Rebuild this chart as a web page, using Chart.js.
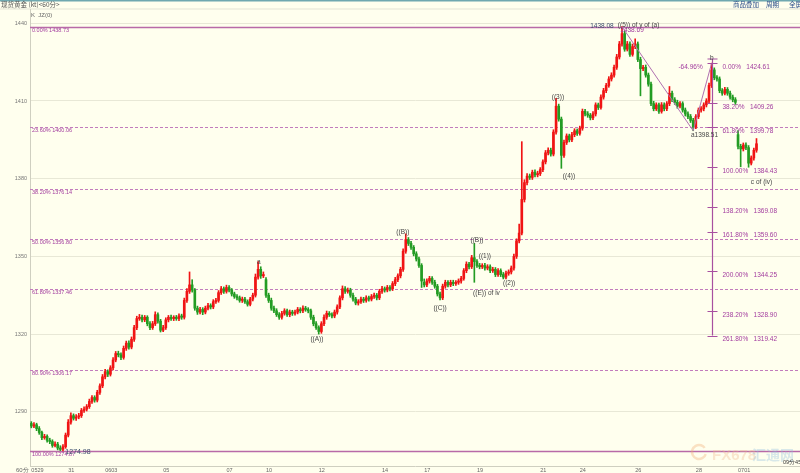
<!DOCTYPE html>
<html>
<head>
<meta charset="utf-8">
<script src="https://cdn.jsdelivr.net/npm/chart.js@4.4.1/dist/chart.umd.min.js"></script>
<style>
  html, body { margin: 0; padding: 0; background: #ffffee; }
</style>
</head>
<body>
<canvas id="c" width="800" height="473"></canvas>
<script>
// 60-minute spot gold (resampled to 2-hour candles)
const opens = [
  1285.5,1284.5,1285,1283.5,1282,1280,1280.5,1279,1278.5,1277,
  1277.5,1276,1275.5,1276.5,1281,1286,1288.5,1287.5,1288,1288.5,
  1290.5,1291,1292,1294,1295.5,1294.5,1297.5,1300,1303.5,1305.5,
  1304.5,1307,1310,1312.5,1312,1311,1314.5,1316.5,1315,1318,
  1322.5,1326,1326.5,1325.5,1326.5,1324,1322.5,1324,1327.5,1325,
  1321.5,1322.5,1325.5,1326.5,1326,1326.5,1326,1327,1326.5,1333,
  1336.5,1339,1337,1330,1328.5,1329.5,1328.5,1330,1331,1330.5,
  1332.5,1333,1336,1337.5,1336.5,1338,1337,1335.5,1334.5,1334,
  1333,1333.5,1332.5,1331.5,1333.5,1335,1342,1345,1342.5,1341,
  1335,1333,1330,1329,1327.5,1326.5,1328,1329,1327.5,1328.5,
  1328,1328.5,1329.5,1329,1330,1329.5,1329,1326.5,1324,1322.5,
  1321,1324,1326.5,1328,1327.5,1327,1328.5,1330.5,1334,1337.5,
  1336.5,1337,1335,1333.5,1332,1332.5,1333.5,1333,1334,1333.5,
  1334.5,1335,1334,1336.5,1337.5,1337,1338,1337.5,1339.5,1341,
  1342.5,1345,1352,1356.5,1355,1353.5,1351,1349,1346.5,1340,
  1339,1340.5,1341.5,1340,1338.5,1335.5,1334,1338.5,1340,1339,
  1340,1339.5,1340,1340.5,1341.5,1344.5,1347,1346,1349.5,1348,
  1346.5,1346,1346.5,1345.5,1346,1344.5,1345,1343,1344.5,1343,
  1342,1343.5,1344,1345.5,1350,1356,1359,1372,1378.5,1381,
  1380.5,1382.5,1381.5,1382,1383.5,1386.5,1390,1391,1389.5,1398,
  1408,1403,1389,1394,1396.5,1395,1397,1398.5,1397.5,1399.5,
  1406,1405,1404.5,1403.5,1405,1408.5,1407.5,1411.5,1414,1416,
  1418.5,1420,1423,1427,1432,1436,1430,1432,1428,1431,
  1432,1426,1422.5,1423,1420,1416.5,1409,1407,1408.5,1406,
  1408.5,1407,1409,1413,1410.5,1409.5,1408,1409,1406.5,1405,
  1404,1402.5,1400,1404,1406.5,1407,1408.5,1410,1416,1422,
  1419,1418.5,1414,1413,1414.5,1413,1411.5,1410.5,1397,1392.5,
  1391.5,1393,1392,1386,1388,1391
];
const highs = [
  1286.2,1285.8,1285.6,1284.3,1282.6,1281.3,1281.1,1279.8,1279.2,1278.4,
  1278.2,1276.9,1277.3,1281.8,1287.0,1289.6,1289.2,1288.9,1289.4,1291.3,
  1291.9,1292.8,1294.9,1296.3,1296.2,1298.3,1300.8,1304.4,1306.4,1306.2,
  1307.8,1310.9,1313.3,1313.4,1312.8,1315.4,1317.3,1317.4,1318.9,1323.4,
  1326.9,1327.6,1327.3,1327.2,1327.1,1324.8,1324.9,1328.6,1328.2,1325.7,
  1323.4,1326.3,1327.2,1327.3,1327.1,1327.2,1327.8,1327.7,1333.9,1337.6,
  1344.0,1341.0,1337.6,1330.8,1330.3,1330.2,1330.8,1331.9,1331.7,1333.3,
  1333.8,1336.8,1338.4,1338.2,1338.9,1338.7,1337.6,1336.2,1335.3,1334.7,
  1334.3,1334.2,1333.2,1334.2,1335.8,1343.2,1348.0,1346.0,1344.0,1341.8,
  1335.8,1333.9,1330.8,1329.8,1328.3,1328.8,1329.8,1329.7,1329.3,1329.2,
  1329.3,1330.3,1330.2,1330.9,1330.7,1330.2,1329.7,1327.3,1324.8,1323.2,
  1324.8,1327.4,1328.9,1328.7,1328.2,1329.3,1331.3,1334.8,1338.6,1338.3,
  1337.8,1337.7,1335.8,1334.2,1333.3,1334.3,1334.2,1334.8,1334.7,1335.3,
  1335.8,1335.7,1337.3,1338.4,1338.2,1338.8,1338.7,1340.3,1341.9,1343.3,
  1345.8,1352.9,1358.7,1357.3,1355.8,1354.2,1351.8,1349.7,1347.2,1341.3,
  1341.3,1342.3,1342.2,1340.8,1339.2,1336.2,1339.3,1340.8,1340.7,1340.8,
  1340.8,1340.7,1341.3,1342.3,1345.3,1347.9,1347.7,1350.4,1355.0,1348.8,
  1347.3,1347.2,1347.3,1346.8,1346.7,1345.8,1345.7,1345.3,1345.2,1343.8,
  1344.3,1344.8,1346.3,1350.9,1356.8,1362.5,1394.3,1379.6,1382.0,1381.8,
  1383.3,1383.4,1382.9,1384.3,1387.3,1390.9,1391.9,1391.8,1398.9,1411.0,
  1408.8,1403.8,1394.9,1397.3,1397.2,1397.9,1399.3,1399.2,1400.3,1406.9,
  1406.8,1405.9,1405.2,1405.9,1409.3,1409.2,1412.4,1414.9,1416.8,1419.4,
  1420.9,1423.9,1428.0,1433.0,1438.69,1437.0,1433.0,1432.8,1432.0,1434.0,
  1432.8,1426.9,1423.8,1423.9,1420.8,1417.3,1409.9,1409.3,1409.2,1409.4,
  1409.3,1409.8,1415.6,1413.8,1411.3,1410.3,1409.8,1409.7,1407.3,1405.8,
  1404.8,1403.3,1404.8,1407.3,1407.8,1409.3,1410.9,1416.9,1424.61,1422.8,
  1419.8,1419.3,1414.8,1415.3,1415.2,1413.8,1412.3,1411.3,1398.6,1393.3,
  1393.8,1393.8,1392.8,1388.8,1391.8,1395.5
];
const lows = [
  1283.8,1283.9,1282.7,1281.3,1279.2,1279.4,1278.3,1277.7,1276.3,1276.4,
  1275.3,1275.0,1274.87,1275.9,1280.3,1285.2,1286.8,1286.7,1287.3,1287.8,
  1289.8,1290.3,1291.3,1293.2,1293.7,1293.8,1296.7,1299.3,1302.7,1303.6,
  1303.8,1306.2,1309.3,1311.2,1310.1,1310.3,1313.7,1314.2,1314.3,1317.2,
  1321.7,1325.3,1324.7,1324.8,1323.2,1321.7,1321.8,1323.3,1324.2,1320.8,
  1320.9,1321.8,1324.7,1325.3,1325.2,1325.3,1325.2,1325.7,1325.8,1332.2,
  1335.7,1336.2,1329.2,1327.6,1327.8,1327.5,1327.8,1329.3,1329.7,1329.8,
  1331.8,1332.3,1335.3,1335.7,1335.8,1336.3,1334.7,1333.8,1333.2,1332.3,
  1332.2,1331.8,1330.8,1330.9,1332.8,1334.3,1341.2,1341.5,1341.8,1334.2,
  1332.2,1329.2,1328.3,1326.8,1325.7,1325.8,1327.3,1326.8,1326.7,1327.2,
  1327.3,1327.8,1328.2,1328.3,1328.8,1328.2,1325.7,1323.2,1321.8,1320.0,
  1320.3,1323.3,1325.7,1326.8,1326.2,1326.3,1327.7,1329.8,1333.2,1335.7,
  1335.8,1334.2,1332.7,1331.3,1331.2,1331.8,1332.2,1332.3,1332.7,1332.8,
  1333.8,1333.2,1333.3,1335.7,1336.2,1336.3,1336.7,1336.8,1338.7,1340.2,
  1341.7,1344.2,1351.2,1354.2,1352.7,1350.2,1348.2,1345.7,1338.0,1338.2,
  1338.3,1339.7,1339.2,1337.7,1334.7,1333.2,1333.3,1337.7,1338.2,1338.3,
  1338.7,1338.8,1339.2,1339.7,1340.8,1343.7,1345.2,1345.3,1340.0,1345.7,
  1345.2,1345.3,1344.7,1344.8,1343.7,1343.8,1342.2,1342.3,1342.2,1341.3,
  1341.3,1342.7,1343.2,1344.7,1349.2,1355.2,1358.3,1371.0,1377.6,1379.7,
  1379.7,1380.7,1380.7,1381.2,1382.7,1385.7,1389.2,1388.7,1388.8,1397.2,
  1402.2,1384.0,1388.2,1393.2,1394.2,1394.3,1396.2,1396.7,1396.8,1398.7,
  1404.2,1403.7,1402.7,1402.8,1404.2,1406.7,1406.8,1410.7,1413.2,1415.3,
  1417.7,1419.2,1422.2,1426.2,1431.2,1429.2,1429.3,1427.2,1427.3,1430.2,
  1425.2,1412.0,1421.7,1419.2,1415.7,1408.2,1406.2,1406.3,1405.2,1405.3,
  1406.2,1406.3,1408.2,1409.7,1408.7,1407.2,1407.3,1405.7,1404.2,1403.2,
  1401.7,1398.51,1399.3,1403.2,1405.7,1406.2,1407.7,1409.2,1415.2,1418.2,
  1417.7,1413.2,1412.2,1412.3,1412.2,1410.7,1409.7,1408.7,1391.5,1384.6,
  1390.7,1391.2,1384.43,1385.3,1387.2,1390.2
];
const closes = [
  1284.5,1285,1283.5,1282,1280,1280.5,1279,1278.5,1277,1277.5,
  1276,1275.5,1276.5,1281,1286,1288.5,1287.5,1288,1288.5,1290.5,
  1291,1292,1294,1295.5,1294.5,1297.5,1300,1303.5,1305.5,1304.5,
  1307,1310,1312.5,1312,1311,1314.5,1316.5,1315,1318,1322.5,
  1326,1326.5,1325.5,1326.5,1324,1322.5,1324,1327.5,1325,1321.5,
  1322.5,1325.5,1326.5,1326,1326.5,1326,1327,1326.5,1333,1336.5,
  1339,1337,1330,1328.5,1329.5,1328.5,1330,1331,1330.5,1332.5,
  1333,1336,1337.5,1336.5,1338,1337,1335.5,1334.5,1334,1333,
  1333.5,1332.5,1331.5,1333.5,1335,1342,1345,1342.5,1343,1335,
  1333,1330,1329,1327.5,1326.5,1328,1329,1327.5,1328.5,1328,
  1328.5,1329.5,1329,1330,1329.5,1329,1326.5,1324,1322.5,1321,
  1324,1326.5,1328,1327.5,1327,1328.5,1330.5,1334,1337.5,1336.5,
  1337,1335,1333.5,1332,1332.5,1333.5,1333,1334,1333.5,1334.5,
  1335,1334,1336.5,1337.5,1337,1338,1337.5,1339.5,1341,1342.5,
  1345,1352,1356.5,1355,1353.5,1351,1349,1346.5,1340.5,1339,
  1340.5,1341.5,1340,1338.5,1335.5,1334,1338.5,1340,1339,1340,
  1339.5,1340,1340.5,1341.5,1344.5,1347,1346,1349.5,1348,1346.5,
  1346,1346.5,1345.5,1346,1344.5,1345,1343,1344.5,1343,1342,
  1343.5,1344,1345.5,1350,1356,1359,1372,1378.5,1381,1380.5,
  1382.5,1381.5,1382,1383.5,1386.5,1390,1391,1389.5,1398,1408,
  1403,1389,1394,1396.5,1395,1397,1398.5,1397.5,1399.5,1406,
  1405,1404.5,1403.5,1405,1408.5,1407.5,1411.5,1414,1416,1418.5,
  1420,1423,1427,1432,1436,1430,1432,1428,1431,1432,
  1426,1422.5,1423,1420,1416.5,1409,1407,1408.5,1406,1408.5,
  1407,1409,1413,1410.5,1409.5,1408,1409,1406.5,1405,1404,
  1402.5,1400,1404,1406.5,1407,1408.5,1410,1416,1422,1419,
  1418.5,1414,1413,1414.5,1413,1411.5,1410.5,1409.5,1392.5,1391.5,
  1393,1392,1386,1388,1391,1393.5
];

// x axis: candle slots, date labels on the first candle of each day shown
const slotCount = 292;
const tickIdx = [0, 14, 28, 50, 74, 89, 109, 133, 149, 169, 193, 208, 229, 252, 268];
const tickText = ['0529', '31', '0603', '05', '07', '10', '12', '14', '17', '19', '21', '24', '26', '28', '0701'];
const yTicks = [1290, 1320, 1350, 1380, 1410, 1440];

// retracement of the whole rise
const fibPct = ['0.00%', '23.60%', '38.20%', '50.00%', '61.80%', '80.90%', '100.00%'];
const fibVal = [1438.73, 1400.06, 1376.14, 1356.80, 1337.46, 1306.17, 1274.87];

// projection of wave c from b
const projIdx = 258;
const projPct = ['0.00%', '38.20%', '61.80%', '100.00%', '138.20%', '161.80%', '200.00%', '238.20%', '261.80%'];
const projVal = [1424.61, 1409.26, 1399.78, 1384.43, 1369.08, 1359.60, 1344.25, 1328.90, 1319.42];

// (5) -> a -> b
const waveIdx = [224, 251, 258];
const waveVal = [1438.69, 1398.51, 1424.61];

// wave labels: text, slot, price
const noteText = ['1438.08', '((5)) of y of (a)', '1438.69', 'b', 'a1398.51', '-64.96%', 'c of (iv)',
  '((3))', '((4))', '((B))', '((C))', '((A))', 'a', '((B))', '((1))', '((2))', '((E)) of iv', '1274.98'];
const noteIdx = [216.4, 230.3, 227.8, 258.1, 255.3, 250, 276.9,
  199.7, 203.9, 140.9, 155, 108.3, 86.3, 169, 172, 181.2, 172.6, 17.7];
const noteVal = [1439.0, 1439.3, 1437.2, 1426.6, 1396.9, 1423.1, 1378.7,
  1411.5, 1381.0, 1359.4, 1330.1, 1318.1, 1347.8, 1356.3, 1350.2, 1339.7, 1335.9, 1274.6];
const notePurple = ['1438.69', '-64.96%'];

const UP = '#f01414', DOWN = '#239c23', PURPLE = '#a23c9e';

const labels = [];
for (let i = 0; i < slotCount; i++) {
  const k = tickIdx.indexOf(i);
  labels.push(k >= 0 ? tickText[k] : '');
}
const colors = closes.map((c, i) => c >= opens[i] ? UP : DOWN);
const waveData = new Array(slotCount).fill(null);
waveIdx.forEach((k, j) => { waveData[k] = waveVal[j]; });

const font = px => px + 'px "Liberation Sans", Arial, sans-serif';

const decor = {
  id: 'decor',
  beforeDraw(chart) {
    const ctx = chart.ctx;
    ctx.save();
    ctx.fillStyle = '#ffffee';
    ctx.fillRect(0, 0, chart.width, chart.height);
    ctx.fillStyle = '#6fa8b0';
    ctx.fillRect(0, 0, 800, 1.5);
    ctx.fillStyle = '#e4e4d4';
    ctx.fillRect(0, 8.5, 800, 1);
    ctx.fillStyle = '#555';
    ctx.font = '6.5px "Noto Sans CJK SC", sans-serif';
    ctx.textBaseline = 'middle';
    ctx.fillText('现货黄金 (kt)<60分>', 1, 5);
    ctx.fillStyle = '#2d4f8a';
    ctx.fillText('商品叠加', 733, 5);
    ctx.fillText('周期', 766, 5);
    ctx.fillText('全屏', 789, 5);
    ctx.fillStyle = '#666';
    ctx.font = font(6);
    ctx.fillText('K  JZ(0)', 31, 15);
    ctx.fillText('60分', 16, 470);
    ctx.restore();
  },
  beforeDatasetsDraw(chart) {
    const ctx = chart.ctx, y = chart.scales.y, a = chart.chartArea;
    ctx.save();
    fibVal.forEach((v, k) => {
      const py = Math.round(y.getPixelForValue(v)) + 0.5;
      const solid = k === 0 || k === fibVal.length - 1;
      ctx.strokeStyle = solid ? '#b86aa8' : '#c27cbc';
      ctx.lineWidth = solid ? 1.5 : 1;
      ctx.setLineDash(solid ? [] : [3, 2]);
      ctx.beginPath();
      ctx.moveTo(a.left, py);
      ctx.lineTo(a.right, py);
      ctx.stroke();
    });
    ctx.restore();
  },
  afterDatasetsDraw(chart) {
    const ctx = chart.ctx, x = chart.scales.x, y = chart.scales.y, a = chart.chartArea;
    ctx.save();
    ctx.textBaseline = 'middle';
    // left fib labels
    ctx.font = font(5.5);
    ctx.fillStyle = PURPLE;
    fibVal.forEach((v, k) => {
      ctx.fillText(fibPct[k] + ' ' + v.toFixed(2), a.left + 2, y.getPixelForValue(v) + 4);
    });
    // projection ruler
    const px = Math.round(x.getPixelForValue(projIdx)) + 0.5;
    const top = y.getPixelForValue(projVal[0] + 1.6);
    const bot = y.getPixelForValue(projVal[projVal.length - 1]);
    ctx.strokeStyle = '#a850a0';
    ctx.lineWidth = 1.2;
    ctx.beginPath();
    ctx.moveTo(px, top);
    ctx.lineTo(px, bot);
    ctx.moveTo(px - 5, top);
    ctx.lineTo(px + 5, top);
    projVal.forEach(v => {
      const py = Math.round(y.getPixelForValue(v)) + 0.5;
      ctx.moveTo(px - 5, py);
      ctx.lineTo(px + 5, py);
    });
    ctx.stroke();
    ctx.font = font(6.5);
    ctx.fillStyle = PURPLE;
    projVal.forEach((v, k) => {
      ctx.fillText(projPct[k] + '   ' + v.toFixed(2), px + 10, y.getPixelForValue(v) + 4);
    });
    // wave labels
    ctx.textAlign = 'center';
    noteText.forEach((t, k) => {
      ctx.fillStyle = notePurple.includes(t) ? PURPLE : (t === '1438.08' || t === '1274.98' ? '#3c4e6e' : '#444');
      ctx.font = font(t === '1274.98' ? 7 : 6.5);
      ctx.fillText(t, x.getPixelForValue(noteIdx[k]), y.getPixelForValue(noteVal[k]));
    });
    ctx.restore();
  },
  afterDraw(chart) {
    const ctx = chart.ctx;
    ctx.save();
    // watermark
    ctx.globalAlpha = 0.35;
    ctx.strokeStyle = '#f0a870';
    ctx.lineWidth = 2.5;
    ctx.beginPath();
    ctx.arc(699, 452, 7, 0.3, Math.PI * 1.8);
    ctx.stroke();
    ctx.font = 'bold 15px "Liberation Sans", Arial, sans-serif';
    ctx.fillStyle = '#f2b890';
    ctx.textBaseline = 'alphabetic';
    ctx.fillText('FX678', 712, 460);
    ctx.font = 'bold 14px "Noto Sans CJK SC", sans-serif';
    ctx.fillStyle = '#8fbde0';
    ctx.fillText('汇通网', 752, 460);
    ctx.globalAlpha = 1;
    ctx.font = font(5.5);
    ctx.fillStyle = '#333';
    ctx.textBaseline = 'middle';
    ctx.fillText('09分45', 783, 462);
    ctx.restore();
  }
};

new Chart(document.getElementById('c'), {
  data: {
    labels: labels,
    datasets: [
      {
        type: 'bar',
        data: lows.map((l, i) => [l, highs[i]]),
        backgroundColor: colors,
        barThickness: 1,
        grouped: false,
        order: 3
      },
      {
        type: 'bar',
        data: opens.map((o, i) => [o, closes[i]]),
        backgroundColor: colors,
        barThickness: 2,
        minBarLength: 1,
        grouped: false,
        order: 2
      },
      {
        type: 'line',
        data: waveData,
        spanGaps: true,
        borderColor: '#b070b0',
        borderWidth: 1,
        pointRadius: 0,
        order: 1
      }
    ]
  },
  options: {
    responsive: false,
    animation: false,
    devicePixelRatio: 1,
    layout: { padding: { top: 9, left: 0, right: 0, bottom: 0 } },
    plugins: { legend: { display: false }, tooltip: { enabled: false } },
    scales: {
      x: {
        type: 'category',
        offset: true,
        grid: { display: false, drawTicks: false },
        border: { display: true, color: '#cfcfc0' },
        ticks: {
          autoSkip: false, maxRotation: 0, minRotation: 0, align: 'start', padding: 1,
          color: '#666', font: { size: 5.5, family: 'Liberation Sans' }
        },
        afterFit(s) { s.height = 7; }
      },
      y: {
        min: 1269.07,
        max: 1445.52,
        grid: { color: '#e8e8d6', drawTicks: false },
        border: { display: true, color: '#cfcfc0' },
        ticks: {
          padding: 3, color: '#777', font: { size: 5.5, family: 'Liberation Sans' },
          callback: v => String(v)
        },
        afterBuildTicks(s) { s.ticks = yTicks.map(v => ({ value: v })); },
        afterFit(s) { s.width = 30; }
      }
    }
  },
  plugins: [decor]
});
</script>
</body>
</html>
